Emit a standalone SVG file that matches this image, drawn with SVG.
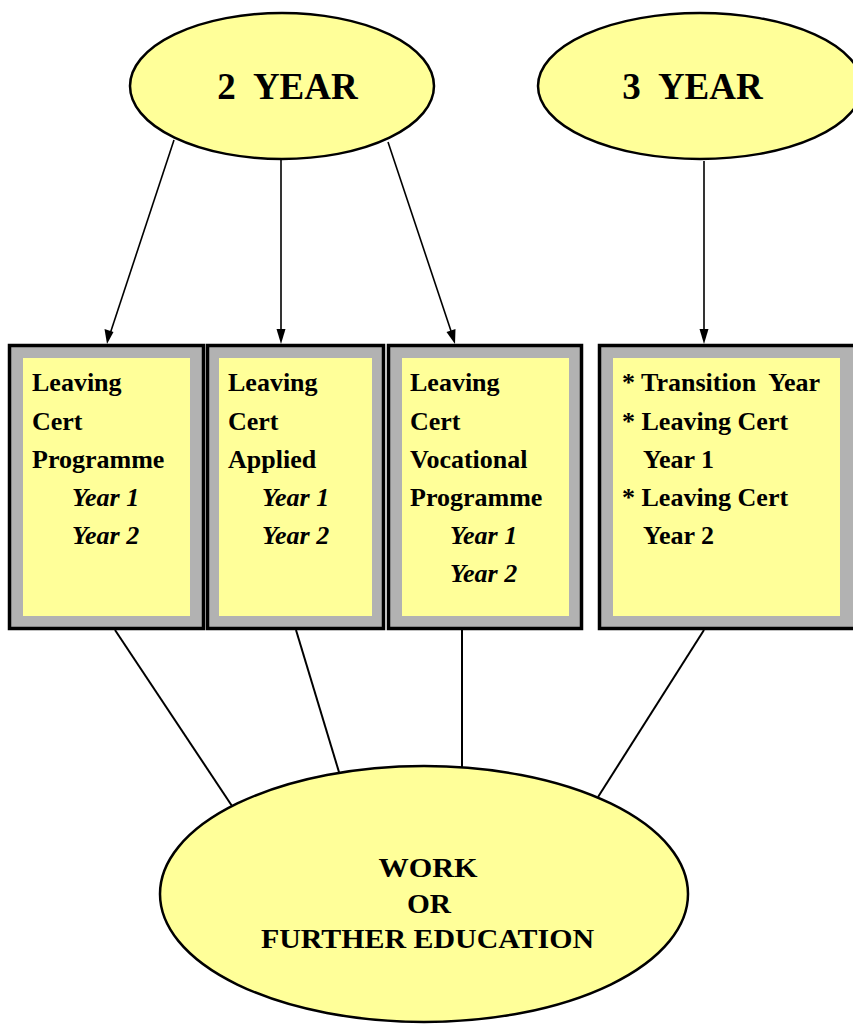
<svg xmlns="http://www.w3.org/2000/svg" width="853" height="1024" viewBox="0 0 853 1024">
<style>
.ell{fill:#FFFF99;stroke:#000;stroke-width:2.5}
.box{fill:#B2B2B2;stroke:#000;stroke-width:3.5}
.inner{fill:#FFFF99;stroke:none}
.t{font-family:"Liberation Serif","Times New Roman",serif;font-weight:bold;font-size:26px;fill:#000}
.it{font-style:italic}
.big{font-family:"Liberation Serif","Times New Roman",serif;font-weight:bold;font-size:37px;fill:#000}
.bot{font-family:"Liberation Serif","Times New Roman",serif;font-weight:bold;font-size:28px;fill:#000}
.con{stroke:#000;stroke-width:2;fill:none}
.arr{stroke:#000;stroke-width:1.6;fill:none}
.head{fill:#000}
</style>
<rect width="853" height="1024" fill="#fff"/>
<g id="connectors">
<line class="arr" x1="174" y1="140" x2="108" y2="340"/>
<line class="arr" x1="281" y1="160" x2="281" y2="340"/>
<line class="arr" x1="388" y1="142" x2="454" y2="340"/>
<line class="arr" x1="704" y1="161" x2="704" y2="340"/>
<polygon class="head" points="107,344 104.5,329 113.5,332"/>
<polygon class="head" points="281,344 276.5,329 285.5,329"/>
<polygon class="head" points="455,344 446.5,332 455.5,329"/>
<polygon class="head" points="704,344 699.5,329 708.5,329"/>
<line class="con" x1="115" y1="630" x2="236" y2="812"/>
<line class="con" x1="296" y1="630" x2="342" y2="782"/>
<line class="con" x1="462" y1="630" x2="462" y2="767"/>
<line class="con" x1="704" y1="630" x2="598" y2="797"/>
</g>
<g id="two-year">
<ellipse class="ell" cx="282" cy="86" rx="152" ry="73"/>
<text class="big" x="287.5" y="99" text-anchor="middle" xml:space="preserve">2  YEAR</text>
</g>
<g id="three-year">
<ellipse class="ell" cx="700" cy="86" rx="162" ry="73"/>
<text class="big" x="692.5" y="99" text-anchor="middle" xml:space="preserve">3  YEAR</text>
</g>
<g id="lcp">
<rect class="box" x="9.5" y="345.5" width="194" height="283"/>
<rect class="inner" x="23" y="358" width="167" height="258"/>
<text class="t" x="32" y="391">Leaving</text>
<text class="t" x="32" y="430">Cert</text>
<text class="t" x="32" y="468">Programme</text>
<text class="t it" x="72" y="506">Year 1</text>
<text class="t it" x="72" y="544">Year 2</text>
</g>
<g id="lca">
<rect class="box" x="207.5" y="345.5" width="176" height="283"/>
<rect class="inner" x="219" y="358" width="153" height="258"/>
<text class="t" x="228" y="391">Leaving</text>
<text class="t" x="228" y="430">Cert</text>
<text class="t" x="228" y="468">Applied</text>
<text class="t it" x="262" y="506">Year 1</text>
<text class="t it" x="262" y="544">Year 2</text>
</g>
<g id="lcvp">
<rect class="box" x="388.5" y="345.5" width="193" height="283"/>
<rect class="inner" x="402" y="358" width="167" height="258"/>
<text class="t" x="410" y="391">Leaving</text>
<text class="t" x="410" y="430">Cert</text>
<text class="t" x="410" y="468">Vocational</text>
<text class="t" x="410" y="506">Programme</text>
<text class="t it" x="450" y="544">Year 1</text>
<text class="t it" x="450" y="582">Year 2</text>
</g>
<g id="three-year-box">
<rect class="box" x="599.5" y="345.5" width="256" height="283"/>
<rect class="inner" x="613" y="358" width="227" height="258"/>
<text class="t" x="622" y="391" xml:space="preserve">* Transition  Year</text>
<text class="t" x="622" y="430">* Leaving Cert</text>
<text class="t" x="643" y="468">Year 1</text>
<text class="t" x="622" y="506">* Leaving Cert</text>
<text class="t" x="643" y="544">Year 2</text>
</g>
<g id="work">
<ellipse class="ell" cx="424" cy="894" rx="264" ry="128"/>
<text class="bot" x="428" y="877" text-anchor="middle" textLength="99" lengthAdjust="spacingAndGlyphs">WORK</text>
<text class="bot" x="429" y="913" text-anchor="middle" textLength="44" lengthAdjust="spacingAndGlyphs">OR</text>
<text class="bot" x="427.5" y="948" text-anchor="middle" textLength="333" lengthAdjust="spacingAndGlyphs">FURTHER EDUCATION</text>
</g>
</svg>
